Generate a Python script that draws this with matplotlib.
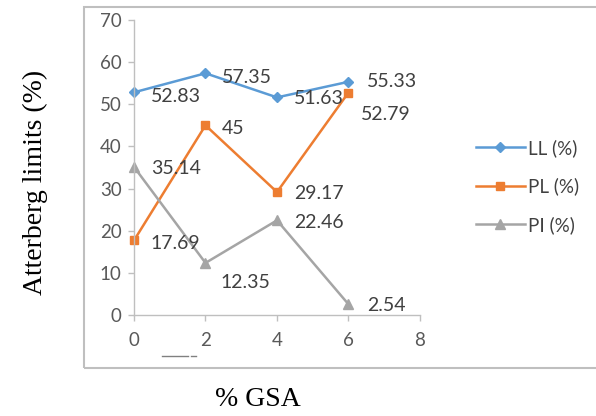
import matplotlib
matplotlib.use("Agg")
import matplotlib.pyplot as plt
from matplotlib.patches import Rectangle
from matplotlib.lines import Line2D

gsa = [0, 2, 4, 6]
ll = [52.83, 57.35, 51.63, 55.33]
pl = [17.69, 45, 29.17, 52.79]
pi = [35.14, 12.35, 22.46, 2.54]
series_names = ["LL (%)", "PL (%)", "PI (%)"]
xticks = [0, 2, 4, 6, 8]
yticks = [0, 10, 20, 30, 40, 50, 60, 70]

# label offsets (points) for data labels
ll_off = [(12, -3), (12, -3), (12, -1), (13.5, 0)]
pl_off = [(12, -2), (12, -2), (12, -1), (9, -16)]
pi_off = [(12, -1), (11, -14), (12, -1.5), (13.5, -1)]

colors = ["#5b9bd5", "#ed7d31", "#a5a5a5"]
markers = ["D", "s", "^"]
msizes = [5, 6, 7]
tick_col = "#595959"
spine_col = "#bfbfbf"

fig = plt.figure(figsize=(5.96, 4.16), dpi=100)
ax = fig.add_axes([0.2248, 0.2428, 0.4799, 0.7092])

lines = []
for data, c, m, ms, offs in zip([ll, pl, pi], colors, markers, msizes, [ll_off, pl_off, pi_off]):
    ln, = ax.plot(gsa, data, color=c, lw=1.8, marker=m, ms=ms, mec=c, mfc=c, clip_on=False)
    lines.append(ln)
    for x, y, o in zip(gsa, data, offs):
        ax.annotate(f"{y:g}", (x, y), xytext=o, textcoords="offset points",
                    ha="left", va="center", fontsize=14, color="#404040",
                    family="Lato")

ax.set_xlim(0, 8)
ax.set_ylim(0, 70)
ax.set_xticks(xticks)
ax.set_yticks(yticks)
for lab in ax.get_xticklabels() + ax.get_yticklabels():
    lab.set_family("Lato")
    lab.set_fontsize(13.5)
    lab.set_color(tick_col)
ax.tick_params(axis="both", direction="out", length=4, width=1, color=spine_col, pad=5)
ax.tick_params(axis="x", pad=8)
for s in ["top", "right"]:
    ax.spines[s].set_visible(False)
for s in ["left", "bottom"]:
    ax.spines[s].set_color(spine_col)
    ax.spines[s].set_linewidth(1)

leg = fig.legend(lines, series_names, loc="upper left", bbox_to_anchor=(0.77, 0.707),
                 frameon=False, prop={"family": "Lato", "size": 13.5}, labelcolor="#404040",
                 handlelength=2.6, handletextpad=0.2, labelspacing=1.1)

# chart border
fig.add_artist(Rectangle((83.5 / 596, 1 - 368 / 416), 1.0, (368 - 7) / 416,
                         transform=fig.transFigure, fill=False, ec=spine_col, lw=1.5))
# stray underline artifact
fig.add_artist(Line2D([162 / 596, 188 / 596], [1 - 356 / 416] * 2, transform=fig.transFigure,
                      color="#808080", lw=1))
fig.add_artist(Line2D([191 / 596, 196 / 596], [1 - 356 / 416] * 2, transform=fig.transFigure,
                      color="#808080", lw=1))

fig.text(258 / 596, 1 - 400 / 416, "% GSA", ha="center", va="center",
         family="Liberation Serif", fontsize=20, color="#000000")
fig.text(35 / 596, 1 - 182 / 416, "Atterberg limits (%)", ha="center", va="center",
         rotation=90, family="Liberation Serif", fontsize=20, color="#000000")

fig.savefig("out.png", dpi=100)
